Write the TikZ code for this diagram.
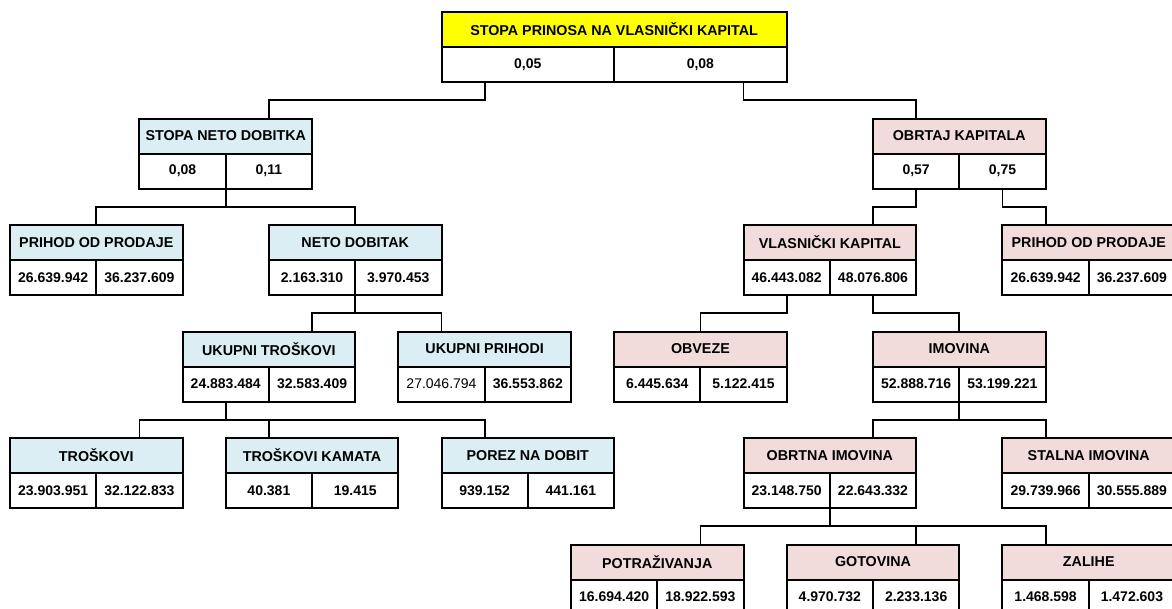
\documentclass[tikz,border=0pt]{standalone}
\usepackage{fontspec}
\setmainfont{Liberation Sans}
\usetikzlibrary{calc}
\definecolor{hblue}{HTML}{DAEEF3}
\definecolor{hpink}{HTML}{F2DCDB}
\definecolor{hyel}{HTML}{FFFF00}
\newcommand\uu{43.15}
% #1 name, #2 x (units), #3 row top, #4 width (units), #5 fill, #6 title, #7 v1, #8 v2
\newcommand\dbox[8]{%
  \node[hdr, fill=#5, minimum width=#4*\uu, anchor=north west] (#1) at (10+#2*\uu, #3) {#6};
  \node[val, minimum width=#4*\uu/2, anchor=north west] (#1L) at (#1.south west) {#7};
  \node[val, minimum width=#4*\uu/2, anchor=north east] (#1R) at (#1.south east) {#8};
}
\tikzset{
  hdr/.style={draw, line width=2pt, minimum height=35pt, inner sep=0pt, outer sep=0pt,
    font=\fontsize{14.3}{16}\selectfont\bfseries},
  val/.style={draw, line width=2pt, fill=white, minimum height=35pt, inner sep=0pt, outer sep=0pt,
    font=\fontsize{14}{16}\selectfont\bfseries},
  conn/.style={line width=1.8pt}
}
\begin{document}
\begin{tikzpicture}[x=1pt, y=-1pt]
\path[use as bounding box] (0,0) rectangle (1172,608);
\clip (0,0) rectangle (1172,608);
% boxes
\dbox{top}{10}{12}{8}{hyel}{STOPA PRINOSA NA VLASNIČKI KAPITAL}{0,05}{0,08}
\dbox{snd}{3}{118.5}{4}{hblue}{STOPA NETO DOBITKA}{0,08}{0,11}
\dbox{ok}{20}{118.5}{4}{hpink}{OBRTAJ KAPITALA}{0,57}{0,75}
\dbox{ppl}{0}{225}{4}{hblue}{PRIHOD OD PRODAJE}{26.639.942}{36.237.609}
\dbox{nd}{6}{225}{4}{hblue}{NETO DOBITAK}{2.163.310}{3.970.453}
\dbox{vk}{17}{225}{4}{hpink}{VLASNIČKI KAPITAL}{46.443.082}{48.076.806}
\dbox{ppr}{23}{225}{4}{hpink}{PRIHOD OD PRODAJE}{26.639.942}{36.237.609}
\dbox{ut}{4}{331.5}{4}{hblue}{UKUPNI TROŠKOVI}{24.883.484}{32.583.409}
\dbox{up}{9}{331.5}{4}{hblue}{UKUPNI PRIHODI}{\mdseries 27.046.794}{36.553.862}
\dbox{ob}{14}{331.5}{4}{hpink}{OBVEZE}{6.445.634}{5.122.415}
\dbox{im}{20}{331.5}{4}{hpink}{IMOVINA}{52.888.716}{53.199.221}
\dbox{tr}{0}{438}{4}{hblue}{TROŠKOVI}{23.903.951}{32.122.833}
\dbox{tk}{5}{438}{4}{hblue}{TROŠKOVI KAMATA}{40.381}{19.415}
\dbox{pd}{10}{438}{4}{hblue}{POREZ NA DOBIT}{939.152}{441.161}
\dbox{oi}{17}{438}{4}{hpink}{OBRTNA IMOVINA}{23.148.750}{22.643.332}
\dbox{si}{23}{438}{4}{hpink}{STALNA IMOVINA}{29.739.966}{30.555.889}
\dbox{po}{13}{544.5}{4}{hpink}{POTRAŽIVANJA}{16.694.420}{18.922.593}
\dbox{go}{18}{544.5}{4}{hpink}{GOTOVINA}{4.970.732}{2.233.136}
\dbox{za}{23}{544.5}{4}{hpink}{ZALIHE}{1.468.598}{1.472.603}
% connector exit points
\coordinate (topA) at ($(topL.south west)!0.25!(topL.south east)$);
\coordinate (topB) at ($(topR.south west)!0.75!(topR.south east)$);
% connectors
\draw[conn] (topA) |- ($(topA)!0.5!(snd.north -| sndR)$) -| (snd.north -| sndR);
\draw[conn] (topB) |- ($(topB)!0.5!(ok.north -| okL)$) -| (ok.north -| okL);
\draw[conn] (sndL.south east) |- ($(sndL.south east)!0.5!(ppl.north)$) -| (ppl.north);
\draw[conn] (sndL.south east) |- ($(sndL.south east)!0.5!(nd.north)$) -| (nd.north);
\draw[conn] (ndL.south east) |- ($(ndL.south east)!0.5!(ut.north -| utR)$) -| (ut.north -| utR);
\draw[conn] (ndL.south east) |- ($(ndL.south east)!0.5!(up.north -| upL)$) -| (up.north -| upL);
\draw[conn] (utL.south) |- ($(utL.south)!0.5!(tr.north -| trR)$) -| (tr.north -| trR);
\draw[conn] (utL.south) |- ($(utL.south)!0.5!(tk.north -| tkL)$) -| (tk.north -| tkL);
\draw[conn] (utL.south) |- ($(utL.south)!0.5!(pd.north -| pdL)$) -| (pd.north -| pdL);
\draw[conn] (okL.south) |- ($(okL.south)!0.5!(vk.north -| vkR)$) -| (vk.north -| vkR);
\draw[conn] (okR.south) |- ($(okR.south)!0.5!(ppr.north -| pprL)$) -| (ppr.north -| pprL);
\draw[conn] (vkL.south) |- ($(vkL.south)!0.5!(ob.north)$) -| (ob.north);
\draw[conn] (vkR.south) |- ($(vkR.south)!0.5!(im.north)$) -| (im.north);
\draw[conn] (imL.south east) |- ($(imL.south east)!0.5!(oi.north -| oiR)$) -| (oi.north -| oiR);
\draw[conn] (imL.south east) |- ($(imL.south east)!0.5!(si.north -| siL)$) -| (si.north -| siL);
\draw[conn] (oiL.south east) |- ($(oiL.south east)!0.5!(po.north -| poR)$) -| (po.north -| poR);
\draw[conn] (oiL.south east) |- ($(oiL.south east)!0.5!(go.north -| goR)$) -| (go.north -| goR);
\draw[conn] (oiL.south east) |- ($(oiL.south east)!0.5!(za.north -| zaL)$) -| (za.north -| zaL);
\end{tikzpicture}
\end{document}
